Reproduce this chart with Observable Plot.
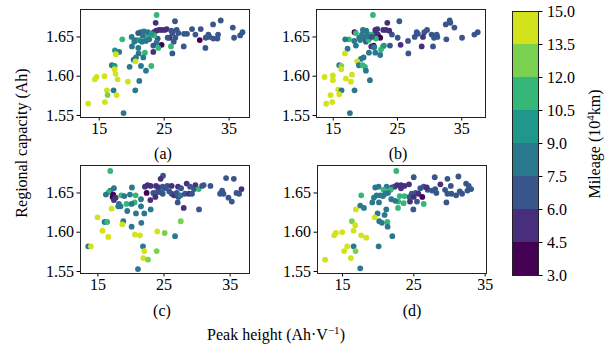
<!DOCTYPE html>
<html><head><meta charset="utf-8">
<script src="https://cdn.jsdelivr.net/npm/d3@7"></script>
<script src="https://cdn.jsdelivr.net/npm/@observablehq/plot@0.6"></script>
<style>
body{margin:0;background:#fff;}
#root{position:relative;width:616px;height:349px;font-family:"Liberation Serif","Times New Roman",serif;font-size:16px;color:#000;overflow:hidden;background:#fff}
.lbl{position:absolute;transform:translate(-50%,-50%);white-space:nowrap;line-height:1}
.rot{transform:translate(-50%,-50%) rotate(-90deg)}
sup{font-size:11px;vertical-align:6px;line-height:0}
</style></head><body><div id="root"></div>
<script>
// ---------- data ----------
const xTicks = [15, 25, 35];
const yTicks = [1.55, 1.60, 1.65];
const mileageTicks = [3.0, 4.5, 6.0, 7.5, 9.0, 10.5, 12.0, 13.5, 15.0];
const panelLabels = ["(a)", "(b)", "(c)", "(d)"];

const aPeak = [23.84,23.69,26.67,33.71,32.53,35.57,37.06,36.70,35.77,30.63,
  29.29,28.52,28.06,29.81,30.48,31.40,31.97,32.58,33.30,33.20,
  31.81,31.35,28.01,26.26,25.08,24.61,24.20,25.39,23.79,23.43,
  26.11,26.93,26.26,25.85,26.72,25.54,26.47,27.19,24.61,23.33,
  24.00,23.84,23.33,26.05,24.10,22.61,22.10,23.48,21.38,21.89,
  22.51,23.07,20.66,20.40,21.17,21.58,20.04,21.02,18.55,17.42,
  18.08,17.57,22.04,21.79,21.07,20.66,20.30,20.60,19.68,21.43,
  23.02,22.20,16.95,17.37,17.37,17.52,17.83,15.82,14.59,14.33,
  19.42,21.17,20.55,16.18,16.29,17.21,17.67,15.87,13.30,18.75,
  20.00,22.20,22.70,21.70,21.00];
const aCap = [1.678,1.668,1.670,1.671,1.666,1.662,1.656,1.652,1.649,1.660,
  1.660,1.654,1.654,1.653,1.646,1.649,1.650,1.648,1.653,1.648,
  1.653,1.636,1.638,1.629,1.659,1.659,1.659,1.660,1.658,1.656,
  1.658,1.659,1.655,1.649,1.649,1.649,1.644,1.655,1.640,1.631,
  1.648,1.643,1.639,1.638,1.636,1.650,1.649,1.652,1.656,1.657,
  1.656,1.654,1.646,1.644,1.646,1.644,1.638,1.636,1.647,1.633,
  1.631,1.628,1.630,1.624,1.629,1.624,1.621,1.619,1.612,1.613,
  1.613,1.607,1.614,1.613,1.609,1.603,1.596,1.600,1.599,1.596,
  1.593,1.594,1.582,1.582,1.576,1.582,1.576,1.567,1.565,1.553,
  1.650,1.645,1.647,1.652,1.655];
const aMileage = [11.25,5.25,6.75,6.75,6.75,6.75,6.75,6.75,6.75,6.75,
  6.75,6.75,6.75,6.75,3.75,6.75,6.75,6.75,6.75,6.75,
  6.75,6.75,6.75,6.75,5.25,5.25,5.25,5.25,5.25,5.25,
  6.75,6.75,6.75,5.25,6.75,6.75,6.75,6.75,3.75,5.25,
  6.75,8.25,6.75,11.25,11.25,11.25,11.25,11.25,8.25,8.25,
  8.25,9.75,8.25,8.25,9.75,8.25,8.25,8.25,11.25,9.75,
  8.25,14.25,11.25,8.25,8.25,8.25,8.25,14.25,8.25,8.25,
  11.25,8.25,8.25,9.75,14.25,14.25,14.25,14.25,14.25,14.25,
  14.25,8.25,8.25,14.25,12.75,8.25,14.25,14.25,14.25,8.25,
  8.25,8.25,8.25,8.25,6.75];

const bPeak = [21.18,23.42,25.29,33.13,32.51,33.86,33.23,37.49,36.97,35.05,
  31.10,30.69,31.21,30.32,29.60,29.18,28.97,28.19,27.68,27.99,
  32.61,30.53,28.77,26.64,26.69,25.49,25.03,23.83,24.14,23.73,
  23.21,22.79,21.86,21.55,21.96,21.44,18.32,21.29,20.92,22.32,
  20.14,19.62,19.47,20.35,20.92,19.83,20.61,20.09,20.51,21.65,
  22.74,22.43,22.90,18.53,17.44,16.87,18.27,18.53,19.05,17.23,
  16.82,22.32,21.55,21.39,20.56,19.73,19.31,18.74,19.00,19.57,
  19.94,20.09,15.94,16.25,16.25,13.65,14.95,14.95,16.97,17.91,
  17.75,20.71,18.32,15.78,16.30,15.94,14.58,14.84,13.91,17.60,
  20.40,19.20,21.00];
const bCap = [1.678,1.668,1.670,1.671,1.666,1.662,1.668,1.656,1.653,1.649,
  1.653,1.649,1.650,1.653,1.659,1.656,1.650,1.654,1.650,1.656,
  1.647,1.638,1.638,1.645,1.629,1.640,1.649,1.639,1.653,1.658,
  1.659,1.659,1.660,1.659,1.653,1.654,1.656,1.639,1.638,1.649,
  1.658,1.659,1.653,1.654,1.653,1.649,1.648,1.644,1.646,1.648,
  1.638,1.634,1.639,1.655,1.647,1.647,1.645,1.639,1.649,1.635,
  1.629,1.627,1.630,1.637,1.630,1.624,1.622,1.619,1.614,1.614,
  1.612,1.607,1.614,1.613,1.609,1.599,1.601,1.595,1.597,1.602,
  1.593,1.595,1.582,1.583,1.582,1.577,1.576,1.567,1.565,1.553,
  1.651,1.646,1.650];
const bMileage = [11.25,5.25,6.75,6.75,6.75,6.75,6.75,6.75,6.75,6.75,
  6.75,6.75,6.75,6.75,6.75,6.75,5.25,6.75,6.75,6.75,
  6.75,6.75,5.25,6.75,6.75,5.25,6.75,6.75,6.75,5.25,
  5.25,5.25,5.25,5.25,5.25,5.25,3.75,3.75,5.25,3.75,
  8.25,8.25,8.25,8.25,11.25,8.25,8.25,6.75,11.25,11.25,
  11.25,11.25,9.75,11.25,11.25,8.25,8.25,8.25,8.25,8.25,
  14.25,8.25,8.25,8.25,8.25,8.25,8.25,14.25,8.25,11.25,
  11.25,8.25,8.25,12.75,14.25,14.25,14.25,14.25,14.25,14.25,
  14.25,8.25,8.25,14.25,8.25,14.25,14.25,14.25,14.25,8.25,
  8.25,8.25,6.75];

const cPeak = [16.87,24.85,24.49,34.39,35.56,22.53,22.98,22.12,23.79,24.19,
  24.80,25.15,25.51,26.16,27.12,27.58,28.43,28.94,29.75,29.55,
  30.25,30.76,32.02,33.79,33.48,33.99,34.75,35.25,35.96,36.72,
  36.36,22.37,23.38,23.89,24.49,24.80,26.16,26.52,26.92,27.17,
  27.07,27.53,28.18,28.79,29.24,27.98,30.30,22.93,23.69,20.15,
  17.42,16.87,16.62,16.21,17.32,17.22,17.42,17.68,18.54,19.85,
  20.71,20.56,19.34,18.18,18.08,18.43,20.10,19.44,20.76,21.52,
  21.52,22.02,22.98,21.57,20.10,17.07,14.95,16.01,16.41,18.84,
  18.69,27.53,15.71,16.57,23.99,25.10,20.61,21.36,26.67,13.54,
  13.94,21.82,22.02,23.89,21.87,22.58,21.06,31.00,25.80,19.00];
const cCap = [1.678,1.672,1.668,1.669,1.668,1.660,1.659,1.658,1.659,1.657,
  1.658,1.656,1.659,1.659,1.658,1.656,1.662,1.658,1.660,1.655,
  1.655,1.659,1.659,1.653,1.649,1.649,1.644,1.639,1.650,1.655,
  1.649,1.650,1.650,1.651,1.651,1.649,1.649,1.647,1.650,1.645,
  1.638,1.647,1.649,1.649,1.649,1.631,1.629,1.641,1.645,1.657,
  1.656,1.653,1.651,1.648,1.648,1.645,1.641,1.644,1.647,1.648,
  1.647,1.638,1.636,1.636,1.633,1.633,1.636,1.627,1.624,1.642,
  1.633,1.624,1.629,1.612,1.607,1.630,1.619,1.613,1.613,1.614,
  1.610,1.614,1.602,1.594,1.601,1.599,1.597,1.596,1.595,1.582,
  1.582,1.582,1.576,1.576,1.567,1.565,1.553,1.660,1.652,1.646];
const cMileage = [11.25,6.75,5.25,6.75,6.75,5.25,5.25,5.25,5.25,5.25,
  6.75,6.75,6.75,5.25,5.25,6.75,5.25,6.75,5.25,6.75,
  11.25,6.75,6.75,6.75,6.75,6.75,6.75,6.75,6.75,5.25,
  6.75,3.75,6.75,6.75,6.75,6.75,6.75,5.25,6.75,6.75,
  6.75,8.25,6.75,5.25,6.75,5.25,6.75,5.25,5.25,8.25,
  8.25,8.25,11.25,8.25,3.75,3.75,5.25,5.25,11.25,8.25,
  11.25,11.25,11.25,8.25,8.25,8.25,8.25,8.25,8.25,8.25,
  8.25,8.25,8.25,8.25,8.25,14.25,14.25,8.25,11.25,8.25,
  14.25,12.75,14.25,14.25,14.25,12.75,14.25,14.25,8.25,8.25,
  14.25,8.25,14.25,12.75,14.25,12.75,8.25,6.75,6.75,8.25];

const dPeak = [22.54,24.98,27.93,31.25,29.71,32.33,32.70,33.03,32.52,28.72,
  30.18,29.38,31.44,30.93,30.27,29.71,28.16,27.55,26.94,26.38,
  25.91,25.26,24.70,24.37,24.93,29.57,31.77,22.63,23.20,23.67,
  24.32,22.31,21.93,23.20,24.46,24.98,25.63,26.19,26.38,25.44,
  19.59,20.06,21.18,20.76,21.74,21.37,23.01,23.67,23.57,22.78,
  22.82,22.40,21.84,21.00,20.67,20.29,19.78,19.17,19.40,20.11,
  21.14,19.92,20.90,17.62,17.48,18.00,16.87,19.50,20.15,20.53,
  21.28,21.32,21.98,16.31,16.78,16.55,14.95,14.06,13.83,17.62,
  18.33,20.06,15.66,16.55,15.23,16.83,16.17,12.56,17.48,26.80,
  28.00];
const dCap = [1.678,1.670,1.670,1.671,1.668,1.662,1.659,1.655,1.653,1.661,
  1.659,1.654,1.652,1.647,1.649,1.649,1.650,1.653,1.654,1.658,
  1.656,1.650,1.649,1.645,1.629,1.638,1.649,1.660,1.660,1.659,
  1.661,1.658,1.657,1.656,1.639,1.645,1.649,1.645,1.636,1.639,
  1.657,1.658,1.658,1.654,1.654,1.650,1.646,1.646,1.637,1.631,
  1.639,1.640,1.642,1.649,1.646,1.647,1.647,1.638,1.644,1.638,
  1.629,1.624,1.622,1.647,1.634,1.631,1.629,1.619,1.614,1.612,
  1.613,1.607,1.595,1.614,1.609,1.602,1.600,1.599,1.596,1.596,
  1.593,1.582,1.582,1.582,1.576,1.576,1.567,1.565,1.554,1.657,
  1.655];
const dMileage = [11.25,6.75,6.75,6.75,6.75,6.75,6.75,6.75,6.75,5.25,
  6.75,6.75,6.75,6.75,6.75,6.75,6.75,6.75,6.75,6.75,
  6.75,6.75,6.75,6.75,6.75,6.75,6.75,5.25,5.25,5.25,
  5.25,5.25,6.75,5.25,5.25,5.25,5.25,3.75,11.25,6.75,
  8.25,8.25,8.25,11.25,11.25,8.25,11.25,11.25,11.25,11.25,
  11.25,8.25,8.25,8.25,8.25,8.25,8.25,8.25,8.25,8.25,
  8.25,8.25,8.25,11.25,8.25,8.25,14.25,14.25,8.25,8.25,
  11.25,8.25,8.25,12.75,14.25,14.25,14.25,14.25,14.25,14.25,
  14.25,8.25,14.25,8.25,14.25,12.75,14.25,14.25,8.25,5.25,
  6.75];

// ---------- layout ----------
const root = document.getElementById("root");
const FONT = "Liberation Serif, Times New Roman, serif";
const yDomain = [1.5474, 1.685];
const thresholds = mileageTicks.slice(1, -1);
const nBins = thresholds.length + 1;
const colors = d3.range(nBins).map(i => d3.interpolateViridis(i / (nBins - 0.5)));
const colorScale = {type: "threshold", domain: thresholds, range: colors};

function place(el, left, top) {
  el.style.position = "absolute";
  el.style.left = left + "px";
  el.style.top = top + "px";
  root.append(el);
}

function panel(peak, cap, mil, xDomain, fx, fy) {
  const n = Math.min(peak.length, cap.length, mil.length);
  const data = d3.range(n).map(i => ({peak: peak[i], cap: cap[i], mileage: mil[i]}));
  const fw = 169, fh = 108, ml = 45, mt = 5, mr = 8, mb = 30;
  const chart = Plot.plot({
    width: ml + fw + mr, height: mt + fh + mb,
    marginLeft: ml, marginTop: mt, marginRight: mr, marginBottom: mb,
    style: {fontFamily: FONT, fontSize: "16px", background: "transparent", color: "#000", overflow: "visible"},
    x: {domain: xDomain, ticks: xTicks, tickSize: 3.5, tickPadding: 2, label: null},
    y: {domain: yDomain, ticks: yTicks, tickFormat: ".2f", tickSize: 3.5, tickPadding: 3, label: null},
    color: colorScale,
    marks: [
      Plot.dot(data, {x: "peak", y: "cap", fill: "mileage", r: 2.9}),
      Plot.frame({stroke: "#222", strokeWidth: 1})
    ]
  });
  place(chart, fx - ml, fy - mt);
}

panel(aPeak, aCap, aMileage, [12.12, 38.14], 80, 9);
panel(bPeak, bCap, bMileage, [12.4, 38.7], 316, 9);
panel(cPeak, cCap, cMileage, [12.37, 37.93], 80, 165);
panel(dPeak, dCap, dMileage, [11.49, 35.19], 317, 165);

// colorbar
const bins = d3.pairs(mileageTicks).map(([lo, hi]) => ({lo, hi}));
const cb = Plot.plot({
  width: 12 + 26 + 60, height: 5 + 264 + 5,
  marginLeft: 12, marginRight: 60, marginTop: 5, marginBottom: 5,
  style: {fontFamily: FONT, fontSize: "16px", background: "transparent", color: "#000", overflow: "visible"},
  x: {domain: [0, 1], axis: null},
  y: {domain: [mileageTicks[0], mileageTicks[mileageTicks.length - 1]], ticks: mileageTicks, tickFormat: ".1f", tickSize: 3.5, tickPadding: 5, axis: "right", label: null},
  color: colorScale,
  marks: [
    Plot.rect(bins, {x1: 0, x2: 1, y1: "lo", y2: "hi", fill: d => (d.lo + d.hi) / 2}),
    Plot.frame({stroke: "#222", strokeWidth: 1})
  ]
});
place(cb, 512 - 12, 11 - 5);

// text labels
function label(html, x, y, cls) {
  const d = document.createElement("div");
  d.className = "lbl" + (cls ? " " + cls : "");
  d.innerHTML = html;
  d.style.left = x + "px"; d.style.top = y + "px";
  root.append(d);
}
label(panelLabels[0], 163, 154);
label(panelLabels[1], 398, 154);
label(panelLabels[2], 162, 311);
label(panelLabels[3], 412, 311);
label("Peak height (Ah·V<sup>−1</sup>)", 276, 335);
label("Regional capacity (Ah)", 22, 143, "rot");
label("Mileage (10<sup>4</sup>km)", 595, 144, "rot");
</script></body></html>
